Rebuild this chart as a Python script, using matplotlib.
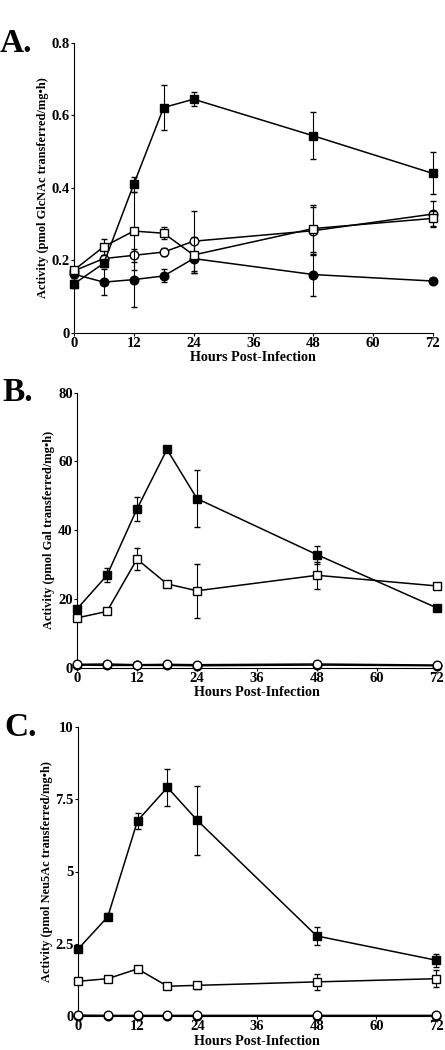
import matplotlib
matplotlib.use("Agg")
import matplotlib.pyplot as plt
import numpy as np

plt.rcParams['font.family'] = ['Liberation Serif', 'DejaVu Serif']
plt.rcParams['font.weight'] = 'bold'

hours = [0, 6, 12, 18, 24, 48, 72]

#########################################################################
# panel A data (GlcNAc)

a_fsq = [0.135, 0.192, 0.41, 0.622, 0.645, 0.544, 0.44]
a_fsq_err = [0.01, 0.01, 0.02, 0.062, 0.02, 0.065, 0.058]
a_osq = [0.173, 0.238, 0.281, 0.275, 0.215, 0.288, 0.316]
a_osq_err = [0.01, 0.022, 0.108, 0.016, 0.05, 0.065, 0.02]
a_oci = [0.171, 0.205, 0.214, 0.223, 0.253, 0.282, 0.328]
a_oci_err = [0.01, 0.01, 0.018, 0.01, 0.083, 0.066, 0.035]
a_fci = [0.162, 0.14, 0.147, 0.157, 0.205, 0.161, 0.143]
a_fci_err = [0.01, 0.035, 0.075, 0.018, 0.04, 0.058, 0.005]

#########################################################################
# panel B data (Gal)

b_fsq = [17.1, 26.9, 46.2, 63.5, 49.2, 32.9, 17.4]
b_fsq_err = [0.5, 2.0, 3.5, 0.5, 8.3, 2.6, 0.5]
b_osq = [14.5, 16.4, 31.6, 24.4, 22.4, 26.9, 23.8]
b_osq_err = [0.5, 0.5, 3.3, 0.5, 7.8, 4.0, 0.5]
b_oci = [1.0, 1.1, 0.9, 1.0, 0.9, 1.1, 0.8]
b_fci = [0.8, 0.7, 0.7, 0.7, 0.6, 0.8, 0.6]

#########################################################################
# panel C data (Neu5Ac)

c_fsq = [2.31, 3.43, 6.76, 7.91, 6.77, 2.77, 1.93]
c_fsq_err = [0.05, 0.12, 0.28, 0.64, 1.2, 0.32, 0.23]
c_osq = [1.2, 1.29, 1.63, 1.03, 1.06, 1.18, 1.29]
c_osq_err = [0.03, 0.03, 0.03, 0.03, 0.12, 0.28, 0.3]
c_oci = [0.03, 0.02, 0.02, 0.02, 0.02, 0.02, 0.02]
c_fci = [0.0, 0.0, 0.0, 0.0, 0.0, 0.0, 0.0]

#########################################################################

fig = plt.figure(figsize=(4.45, 10.5), dpi=100)


def draw_series(ax, y, err, marker, face, z):
    ax.errorbar(hours, y, yerr=err, color='black', marker=marker,
                markerfacecolor=face, markeredgecolor='black',
                markersize=6.2, markeredgewidth=1.0, linewidth=1.1,
                elinewidth=0.8, capsize=2, capthick=0.8,
                clip_on=False, zorder=z)


def style_axes(ax, ylim, yticks, yticklabels, ylabel, letter):
    ax.set_xlim(0, 72)
    ax.set_ylim(*ylim)
    ax.set_xticks([0, 12, 24, 36, 48, 60, 72])
    ax.set_yticks(yticks)
    ax.set_yticklabels(yticklabels)
    ax.spines['top'].set_visible(False)
    ax.spines['right'].set_visible(False)
    ax.tick_params(direction='out', length=2, width=0.8, labelsize=10.5, pad=1)
    for lbl in ax.get_xticklabels() + ax.get_yticklabels():
        lbl.set_fontweight('bold')
    ax.set_xlabel('Hours Post-Infection', fontsize=10.2, fontweight='bold', labelpad=1)
    ax.set_ylabel(ylabel, fontsize=8.9, fontweight='bold', labelpad=2)
    ax.text(-0.206, 1.0, letter, transform=ax.transAxes, fontsize=24,
            fontweight='bold', ha='left', va='center')


# Panel A
axA = fig.add_axes([0.166, 0.683, 0.807, 0.276])
draw_series(axA, a_fci, a_fci_err, 'o', 'black', 3)
draw_series(axA, a_oci, a_oci_err, 'o', 'white', 4)
draw_series(axA, a_osq, a_osq_err, 's', 'white', 5)
draw_series(axA, a_fsq, a_fsq_err, 's', 'black', 6)
style_axes(axA, (0, 0.8), [0, 0.2, 0.4, 0.6, 0.8], ['0', '0.2', '0.4', '0.6', '0.8'],
           'Activity (pmol GlcNAc transferred/mg\u2022h)', 'A.')

# Panel B
axB = fig.add_axes([0.173, 0.364, 0.809, 0.262])
draw_series(axB, b_fci, None, 'o', 'black', 3)
draw_series(axB, b_oci, None, 'o', 'white', 4)
draw_series(axB, b_osq, b_osq_err, 's', 'white', 5)
draw_series(axB, b_fsq, b_fsq_err, 's', 'black', 6)
style_axes(axB, (0, 80), [0, 20, 40, 60, 80], ['0', '20', '40', '60', '80'],
           'Activity (pmol Gal transferred/mg\u2022h)', 'B.')

# Panel C
axC = fig.add_axes([0.175, 0.0324, 0.805, 0.2752])
draw_series(axC, c_fci, None, 'o', 'black', 3)
draw_series(axC, c_oci, None, 'o', 'white', 4)
draw_series(axC, c_osq, c_osq_err, 's', 'white', 5)
draw_series(axC, c_fsq, c_fsq_err, 's', 'black', 6)
style_axes(axC, (0, 10), [0, 2.5, 5, 7.5, 10], ['0', '2.5', '5', '7.5', '10'],
           'Activity (pmol Neu5Ac transferred/mg\u2022h)', 'C.')

fig.savefig('out.png', dpi=100)
